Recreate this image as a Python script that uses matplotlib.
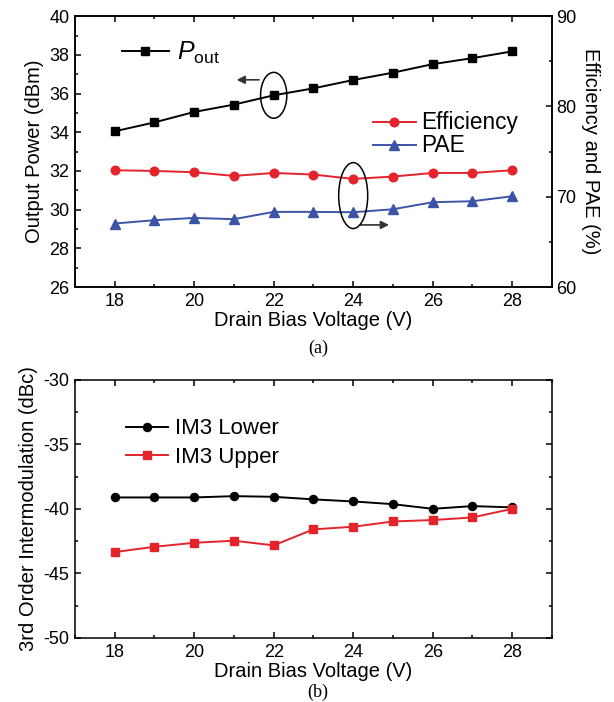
import matplotlib
matplotlib.use('Agg')
import matplotlib.pyplot as plt
from matplotlib.patches import Ellipse
from matplotlib.ticker import MultipleLocator

plt.rcParams['font.family'] = ['Liberation Sans', 'DejaVu Sans']
plt.rcParams['mathtext.fontset'] = 'custom'
plt.rcParams['mathtext.rm'] = 'Liberation Sans'
plt.rcParams['mathtext.it'] = 'Liberation Sans:italic'
plt.rcParams['axes.unicode_minus'] = False

# drain bias voltage (V)
vd = [18, 19, 20, 21, 22, 23, 24, 25, 26, 27, 28]

# (a) output power (dBm), efficiency and PAE (%)
pout = [34.05, 34.51, 35.05, 35.43, 35.91, 36.27, 36.70, 37.08, 37.52, 37.83, 38.18]
eff = [72.94, 72.86, 72.72, 72.31, 72.64, 72.46, 71.98, 72.24, 72.64, 72.64, 72.94]
pae = [67.04, 67.41, 67.66, 67.52, 68.33, 68.33, 68.29, 68.62, 69.40, 69.51, 70.06]

# (b) IM3 (dBc)
im3_lower = [-39.12, -39.12, -39.12, -39.02, -39.07, -39.27, -39.43, -39.64, -40.0, -39.79, -39.89]
im3_upper = [-43.35, -42.94, -42.63, -42.47, -42.83, -41.59, -41.39, -40.98, -40.87, -40.67, -40.0]

red = '#e5232b'
blue = '#3b54a6'

fig = plt.figure(figsize=(6.14, 7.02), dpi=100)

def style_x(ax):
    ax.set_xlim(17, 29)
    ax.xaxis.set_major_locator(MultipleLocator(2))
    ax.xaxis.set_minor_locator(MultipleLocator(1))
    ax.set_xlabel('Drain Bias Voltage (V)', fontsize=14.5, labelpad=1)

# ---- (a)
ax1 = fig.add_axes([0.122, 0.591, 0.777, 0.386])
ax1.plot(vd, pout, color='black', marker='s', ms=5.2, lw=1.4, label=r'$P_{\mathrm{out}}$')
ax1.set_ylim(26, 40)
ax1.yaxis.set_major_locator(MultipleLocator(2))
ax1.yaxis.set_minor_locator(MultipleLocator(1))
ax1.set_ylabel('Output Power (dBm)', fontsize=14.5, labelpad=4)
style_x(ax1)
ax1.tick_params(which='both', direction='in', top=True, right=False, labelsize=13, width=1.1)
ax1.tick_params(which='major', length=4, pad=4)
ax1.tick_params(which='minor', length=2.5)

ax2 = ax1.twinx()
ax2.plot(vd, eff, color=red, marker='o', ms=6.2, lw=1.4, label='Efficiency')
ax2.plot(vd, pae, color=blue, marker='^', ms=7, lw=1.4, label='PAE')
ax2.set_ylim(60, 90)
ax2.yaxis.set_major_locator(MultipleLocator(10))
ax2.yaxis.set_minor_locator(MultipleLocator(5))
ax2.set_ylabel('Efficiency and PAE (%)', fontsize=14.5, rotation=270, labelpad=17)
ax2.tick_params(which='both', direction='in', labelsize=13, width=1.1, pad=3)
ax2.tick_params(which='major', length=4)
ax2.tick_params(which='minor', length=2.5)
for ax in (ax1, ax2):
    for s in ax.spines.values():
        s.set_linewidth(1.1)

ax1.legend(loc='center left', bbox_to_anchor=(0.098, 0.863), frameon=False, fontsize=18,
           handlelength=1.9, handletextpad=0.3, borderpad=0, borderaxespad=0)
ax2.legend(loc='center left', bbox_to_anchor=(0.624, 0.5635), frameon=False, fontsize=16.3,
           handlelength=1.9, handletextpad=0.25, labelspacing=0.0, borderpad=0, borderaxespad=0)

# circles and arrows
ax1.add_patch(Ellipse((vd[4], pout[4]), 0.66, 2.37, fill=False, lw=1.1, color='black', zorder=5))
ax1.annotate('', xy=(21.0, pout[4] + 0.8), xytext=(vd[4] - 0.3, pout[4] + 0.8),
             arrowprops=dict(arrowstyle='-|>', color='#333333', lw=1.2, mutation_scale=12))
mid = (eff[6] + pae[6]) / 2
ax2.add_patch(Ellipse((vd[6], mid), 0.73, 7.3, fill=False, lw=1.1, color='black', zorder=5))
ax2.annotate('', xy=(24.97, mid - 3.25), xytext=(vd[6] + 0.1, mid - 3.25),
             arrowprops=dict(arrowstyle='-|>', color='#333333', lw=1.2, mutation_scale=12))

fig.text(0.518, 1 - 348 / 702, '(a)', ha='center', va='center', fontsize=13, family='Liberation Serif')

# ---- (b)
ax3 = fig.add_axes([0.122, 0.0912, 0.777, 0.368])
ax3.plot(vd, im3_lower, color='black', marker='o', ms=5.8, lw=1.4, label='IM3 Lower')
ax3.plot(vd, im3_upper, color=red, marker='s', ms=5.3, lw=1.4, label='IM3 Upper')
ax3.set_ylim(-50, -30)
ax3.yaxis.set_major_locator(MultipleLocator(5))
ax3.yaxis.set_minor_locator(MultipleLocator(2.5))
ax3.set_ylabel('3rd Order Intermodulation (dBc)', fontsize=14.5, labelpad=4)
style_x(ax3)
ax3.tick_params(which='both', direction='in', top=True, right=True, labelsize=13, width=1.1)
ax3.tick_params(which='major', length=4, pad=4)
ax3.tick_params(which='minor', length=2.5)
for s in ax3.spines.values():
    s.set_linewidth(1.1)
ax3.legend(loc='center left', bbox_to_anchor=(0.107, 0.754), frameon=False, fontsize=16,
           handlelength=1.9, handletextpad=0.3, labelspacing=0.35, borderpad=0, borderaxespad=0)

fig.text(0.518, 1 - 692 / 702, '(b)', ha='center', va='center', fontsize=13, family='Liberation Serif')

fig.savefig('out.png', dpi=100)
